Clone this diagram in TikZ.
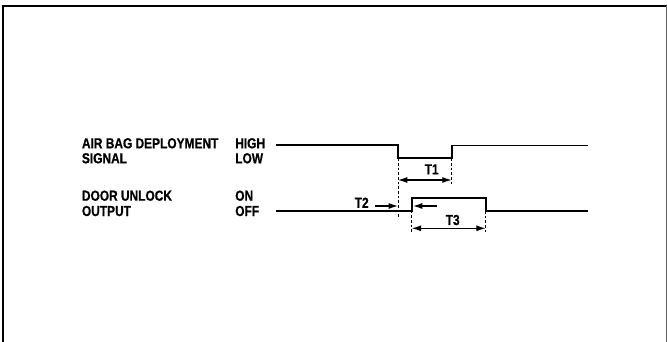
\documentclass[tikz,border=0pt]{standalone}
\usepackage{fontspec}
\newfontfamily\labfont[FakeStretch=0.82,FakeBold=0.6]{Liberation Sans}
\usetikzlibrary{arrows.meta}
\begin{document}
\begin{tikzpicture}[x=0.75pt,y=-0.75pt,
  lab/.style={font=\labfont\bfseries\fontsize{10.9pt}{12pt}\selectfont, inner sep=0pt},
  sig/.style={line width=1.2pt},
  guide/.style={line width=0.5pt, dash pattern=on 2pt off 1.5pt},
  dim/.style={line width=0.9pt, {Latex[length=7pt,width=4.5pt]}-{Latex[length=7pt,width=4.5pt]}},
  ptr/.style={line width=0.9pt, -{Latex[length=7pt,width=4.5pt]}}]
\useasboundingbox (0,0) rectangle (667,342);
% frame
\draw[line width=2.2pt] (3,342) -- (3,6) -- (667,6);
\draw[line width=0.5pt, black!60] (666,6) -- (666,342);
% labels
\node[lab, anchor=west] (ab1) at (81.7,143.3) {AIR BAG DEPLOYMENT};
\node[lab, anchor=west] (ab2) at (81.7,158.3) {SIGNAL};
\node[lab, anchor=west] (du1) at (81.7,195.7) {DOOR UNLOCK};
\node[lab, anchor=west] (du2) at (81.7,211) {OUTPUT};
\node[lab, anchor=west] (hi) at (235,143.3) {HIGH};
\node[lab, anchor=west] (lo) at (235,158.3) {LOW};
\node[lab, anchor=west] (on) at (235,195.7) {ON};
\node[lab, anchor=west] (off) at (235,211) {OFF};
% air bag signal
\coordinate (a0) at (276,145);
\coordinate (a1) at (398,145);
\coordinate (a2) at (398,158.3);
\coordinate (a3) at (451.7,158.3);
\coordinate (a4) at (451.7,145.5);
\coordinate (a5) at (588,145.5);
\draw[sig] (a0) -- (a1) -- (a2) -- (a3) -- (a4) -- (a5);
% door unlock output
\coordinate (d0) at (276,210.7);
\coordinate (d1) at (411.7,210.7);
\coordinate (d2) at (411.7,197.7);
\coordinate (d3) at (485.7,197.7);
\coordinate (d4) at (485.7,211);
\coordinate (d5) at (588,211);
\draw[sig] (d0) -- (d1) -- (d2) -- (d3) -- (d4) -- (d5);
% guide lines
\coordinate (g1) at (398,217);
\coordinate (g2) at (451.7,186);
\coordinate (g3) at (411.7,232);
\coordinate (g4) at (485.7,232);
\draw[guide] (a2) -- (g1);
\draw[guide] (a3) -- (g2);
\draw[guide] (d1) -- (g3);
\draw[guide] (d4) -- (g4);
% T1
\coordinate (t1l) at (398,180);
\coordinate (t1r) at (451.7,180);
\draw[dim] (t1l) -- (t1r);
\node[lab] (t1) at (431.7,169.3) {T1};
% T2
\node[lab] (t2) at (361.7,202.7) {T2};
\coordinate (t2a) at (375,206);
\coordinate (t2b) at (398,206);
\coordinate (t2c) at (437,206);
\coordinate (t2d) at (413,206);
\draw[ptr] (t2a) -- (t2b);
\draw[ptr] (t2c) -- (t2d);
% T3
\coordinate (t3l) at (411.7,228.3);
\coordinate (t3r) at (485.7,228.3);
\draw[dim] (t3l) -- (t3r);
\node[lab] (t3) at (452.7,220) {T3};
\end{tikzpicture}
\end{document}
